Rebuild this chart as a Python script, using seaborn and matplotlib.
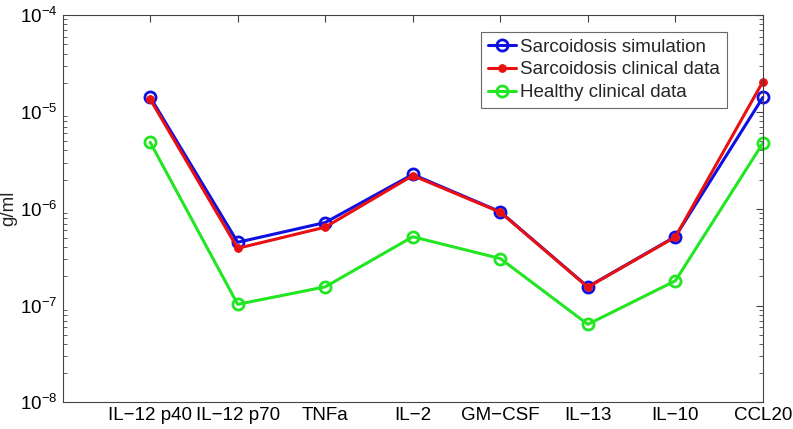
import numpy as np
import pandas as pd
import matplotlib
matplotlib.use("Agg")
import matplotlib.pyplot as plt
import seaborn as sns
from matplotlib.ticker import LogLocator, NullFormatter

categories = ["IL\u221212 p40", "IL\u221212 p70", "TNFa", "IL\u22122", "GM\u2212CSF", "IL\u221213", "IL\u221210", "CCL20"]
sim = [1.42e-5, 4.5e-7, 7.2e-7, 2.26e-6, 9.3e-7, 1.56e-7, 5.15e-7, 1.41e-5]
clin = [1.35e-5, 3.9e-7, 6.45e-7, 2.2e-6, 9.2e-7, 1.55e-7, 5.1e-7, 2.05e-5]
healthy = [4.85e-6, 1.03e-7, 1.56e-7, 5.13e-7, 3.06e-7, 6.4e-8, 1.8e-7, 4.75e-6]

sns.set_theme(style="white")
plt.rcParams['font.family'] = ['Liberation Sans', 'DejaVu Sans']

fig = plt.figure(figsize=(7.93, 4.29), dpi=100)
ax = fig.add_axes([0.079, 0.062, 0.883, 0.903])

pos = np.arange(1, len(categories) + 1)
df = pd.DataFrame({"pos": pos, "sim": sim, "clin": clin, "healthy": healthy})

sns.lineplot(data=df, x="pos", y="sim", ax=ax, color="#1010e0", lw=2.2,
             marker="o", markersize=8, markerfacecolor="none", clip_on=False,
             markeredgecolor="#1010e0", markeredgewidth=2, label="Sarcoidosis simulation")
sns.lineplot(data=df, x="pos", y="clin", ax=ax, color="#e81010", lw=2.2,
             marker="o", markersize=5.5, markerfacecolor="#e81010", clip_on=False,
             markeredgecolor="#e81010", label="Sarcoidosis clinical data")
sns.lineplot(data=df, x="pos", y="healthy", ax=ax, color="#22e622", lw=2.2,
             marker="o", markersize=8, markerfacecolor="none", clip_on=False,
             markeredgecolor="#22e622", markeredgewidth=2, label="Healthy clinical data")

ax.set_yscale("log")
ax.set_ylim(1e-8, 1e-4)
ax.set_xlim(0, 8)
ax.set_xticks(pos)
ax.set_xticklabels(categories, fontsize=13.5)
ax.set_xlabel("")
ax.set_ylabel("g/ml", fontsize=13.5, labelpad=2)
ax.yaxis.set_major_locator(LogLocator(base=10, numticks=10))
ax.yaxis.set_minor_locator(LogLocator(base=10, subs=np.arange(2, 10), numticks=10))
ax.yaxis.set_minor_formatter(NullFormatter())
ax.tick_params(axis="both", which="both", direction="in", top=True, right=True,
               colors="#444444", labelcolor="black", labelsize=13.5)
ax.tick_params(axis="both", which="major", length=5, width=0.8)
ax.tick_params(axis="y", which="minor", length=3, width=0.6, left=True, right=True)
for s in ax.spines.values():
    s.set_color("#444444")
    s.set_linewidth(0.8)

leg = ax.legend(loc="upper right", bbox_to_anchor=(0.9486, 0.956), fontsize=13.5,
                frameon=True, fancybox=False, handlelength=1.5, handletextpad=0.25,
                borderpad=0.35, labelspacing=0.3, borderaxespad=0)
leg.get_frame().set_edgecolor("#444444")
leg.get_frame().set_linewidth(0.8)

fig.savefig("out.png", dpi=100)
